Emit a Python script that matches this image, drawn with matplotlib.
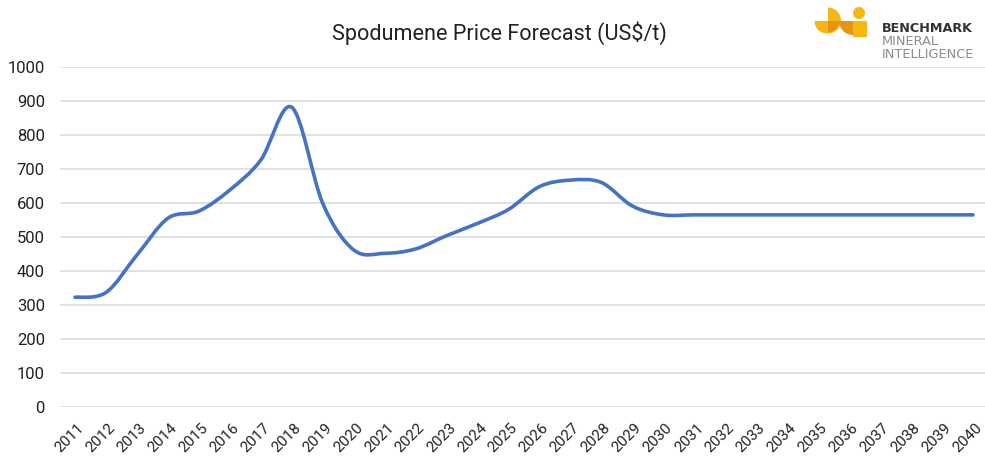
import numpy as np
import matplotlib
matplotlib.use("Agg")
import matplotlib.pyplot as plt
from matplotlib.path import Path
from matplotlib.patches import PathPatch, Wedge, Circle, Rectangle
from matplotlib.transforms import ScaledTranslation

# ---- data ----
years = [str(y) for y in range(2011, 2041)]
prices = [323, 337, 447, 555, 576, 638, 726, 881, 599, 462,
          452, 465, 504, 540, 581, 648, 667, 660, 591, 565,
          565, 565, 565, 565, 565, 565, 565, 565, 565, 565]
y_ticks = [0, 100, 200, 300, 400, 500, 600, 700, 800, 900, 1000]
title = "Spodumene Price Forecast (US$/t)"

plt.rcParams['font.family'] = ['Roboto', 'DejaVu Sans']

W, H = 985, 457
fig = plt.figure(figsize=(W / 100, H / 100), dpi=100)
fig.patch.set_facecolor('white')

ax = fig.add_axes([59.5 / W, 49.7 / H, 929 / W, 340.6 / H])
ax.set_xlim(-0.5, 29.5)
ax.set_ylim(0, 1000)

# smoothed line (Catmull-Rom as cubic Bezier segments)
x = np.arange(len(prices), dtype=float)
y = np.array(prices, dtype=float)
verts = [(x[0], y[0])]
codes = [Path.MOVETO]
n = len(x)
for i in range(n - 1):
    p0 = np.array([x[max(i - 1, 0)], y[max(i - 1, 0)]])
    p1 = np.array([x[i], y[i]])
    p2 = np.array([x[i + 1], y[i + 1]])
    p3 = np.array([x[min(i + 2, n - 1)], y[min(i + 2, n - 1)]])
    c1 = p1 + (p2 - p0) / 6.0
    c2 = p2 - (p3 - p1) / 6.0
    verts += [tuple(c1), tuple(c2), tuple(p2)]
    codes += [Path.CURVE4] * 3
path = Path(verts, codes)
ax.add_patch(PathPatch(path, facecolor='none', edgecolor='#4472C4', lw=2.6,
                       capstyle='round', joinstyle='round', zorder=3))

# grid
ax.set_yticks(y_ticks)
ax.set_yticklabels([str(v) for v in y_ticks])
ax.grid(axis='y', color='#D9D9D9', lw=1.1)
ax.set_axisbelow(True)
for s in ax.spines.values():
    s.set_visible(False)
ax.tick_params(axis='y', length=0, pad=10.5, labelsize=12, labelcolor='#222222')

ax.set_xticks(range(len(years)))
ax.set_xticklabels(years)
ax.tick_params(axis='x', length=0, pad=9.5, labelsize=11, labelcolor='#222222')
for lab in ax.get_xticklabels():
    lab.set_rotation(45)
    lab.set_ha('right')
    lab.set_va('top')
    lab.set_rotation_mode('anchor')
    lab.set_transform(lab.get_transform() + ScaledTranslation(2 / 100, 0, fig.dpi_scale_trans))

fig.text(499 / W, 1 - 40 / H, title, ha='center', va='baseline', fontsize=15.6, color='#222222')

# ---- logo ----
lax = fig.add_axes([805 / W, 1 - 42 / H, 70 / W, 42 / H])
lax.set_xlim(805, 875)
lax.set_ylim(42, 0)
lax.axis('off')
yel = '#F7B713'
org = '#E69412'
lax.add_patch(Wedge((827, 21), 12.5, 0, 180, color=yel, lw=0))
lax.add_patch(Wedge((828, 20.5), 13, -90, 90, color=yel, lw=0))
lax.add_patch(Wedge((828, 21), 11, 0, 90, color=org, lw=0))
lax.add_patch(Circle((859, 13), 6, color=yel, lw=0))
lax.add_patch(Rectangle((853, 21), 14, 15.5, color=yel, lw=0))
lax.add_patch(Wedge((853, 21), 14, 90, 180, color=org, lw=0))

fig.text(882 / W, 1 - 32 / H, "BENCHMARK", ha='left', va='baseline', fontsize=9.2,
         fontweight='bold', color='#333333', family=['DejaVu Sans'])
fig.text(882 / W, 1 - 45 / H, "MINERAL", ha='left', va='baseline', fontsize=9.3,
         color='#8C8C8C', family=['DejaVu Sans'])
fig.text(882 / W, 1 - 58 / H, "INTELLIGENCE", ha='left', va='baseline', fontsize=9.3,
         color='#8C8C8C', family=['DejaVu Sans'])

fig.savefig('out.png', dpi=100, facecolor='white')
